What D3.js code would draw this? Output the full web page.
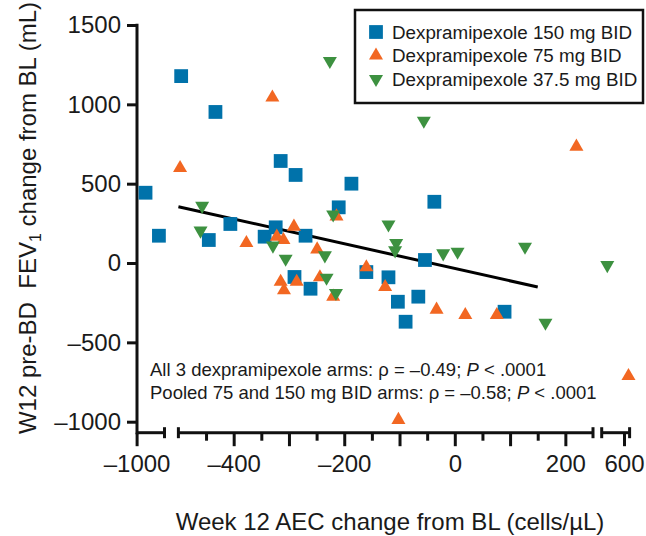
<!DOCTYPE html>
<html><head><meta charset="utf-8">
<script src="https://cdn.jsdelivr.net/npm/d3@7/dist/d3.min.js"></script>
<style>
body{margin:0;background:#fff}
svg{display:block}
text{font-family:"Liberation Sans",Arial,Helvetica,sans-serif;fill:#1a1a1a}
</style></head>
<body><svg id="chart" width="646" height="536"></svg>
<script>
// ---------- data ----------
const seriesNames = ["Dexpramipexole 150 mg BID","Dexpramipexole 75 mg BID","Dexpramipexole 37.5 mg BID"];
const x150 = [-495,-433,-984,-960,-315,-288,-187,-210,-37,-445,-406,-344,-324,-270,-290,-261,-160,-120,-103,-66,-89,-54,90];
const y150 = [1178,952,443,172,643,555,500,351,386,145,246,166,225,172,-88,-162,-57,-90,-244,-212,-370,19,-307];
const x75 = [-330,-497,220,-377,-322,-310,-291,-214,-249,-315,-309,-286,-244,-220,-160,-126,-33,19,76,608,-102];
const y75 = [1043,599,733,126,166,145,229,294,86,-118,-172,-118,-90,-212,-27,-151,-294,-328,-328,-712,-989];
const x37 = [-226,-56,-457,-460,-220,-329,-306,-235,-232,-215,-120,-106,-108,-21,5,127,570,164];
const y37 = [1273,897,360,204,306,110,27,48,-93,-189,243,126,80,61,71,103,-13,-376];
const regX = [-500,150];
const regY = [355,-151];
const xSegmentDomains = [[-1000,-950],[-500,250],[560,610]];
const xMajorTicks = [-1000,-400,-200,0,200,600];
const xMidTicks = [-300,-100,100];
const xMinorTicks = [-450,-350,-250,-150,-50,50,150];
const yTicks = [-1000,-500,0,500,1000,1500];
const annotations = [
  ["All 3 dexpramipexole arms: \u03C1 = \u20130.49; ","P"," < .0001"],
  ["Pooled 75 and 150 mg BID arms: \u03C1 = \u20130.58; ","P"," < .0001"]
];
const xTitle = "Week 12 AEC change from BL (cells/\u00B5L)";

// ---------- layout ----------
const colors = ["#0072AA","#F26722","#3D9140"];
const svg = d3.select("#chart");
const axisY = 432.7, axisX = 137;
const segRanges = [[136.6,164.5],[178.4,593],[601.7,629.6]];
const xs = xSegmentDomains.map((d,i)=>d3.scaleLinear().domain(d).range(segRanges[i]));
function xScale(v){
  for(let i=0;i<xs.length;i++){const d=xs[i].domain(); if(v>=d[0]-1e-9 && v<=d[1]+1e-9) return xs[i](v);}
  if(v<xSegmentDomains[1][0]) return xs[0](v);
  if(v>xSegmentDomains[1][1]) return xs[2](v);
  return xs[1](v);
}
const y = d3.scaleLinear().domain([-1000,1500]).range([421.7,25]);
const fmt = v => (v<0?"\u2013":"")+Math.abs(v);

// ---------- axes ----------
const ax = svg.append("g").attr("stroke","#111").attr("fill","none").attr("stroke-linecap","butt");
ax.append("line").attr("x1",axisX).attr("x2",axisX).attr("y1",y(1500)-1.3).attr("y2",axisY+1.5).attr("stroke-width",3);
const gy = svg.append("g").attr("transform",`translate(${axisX},0)`)
  .call(d3.axisLeft(y).tickValues(yTicks).tickSize(10).tickPadding(6).tickFormat(fmt));
gy.select(".domain").remove();
gy.selectAll(".tick line").attr("stroke","#111").attr("stroke-width",3);
gy.selectAll(".tick text").attr("font-size",24).attr("fill","#1a1a1a").attr("font-family","Liberation Sans, Arial, sans-serif");

xs.forEach((s,i)=>{
  const r = s.range();
  const x0 = i===0 ? axisX : r[0];
  ax.append("line").attr("x1",x0).attr("x2",r[1]).attr("y1",axisY).attr("y2",axisY).attr("stroke-width",3);
  if(i>0) ax.append("line").attr("x1",r[0]).attr("x2",r[0]).attr("y1",axisY-5.5).attr("y2",axisY+5.5).attr("stroke-width",3);
  ax.append("line").attr("x1",r[1]).attr("x2",r[1]).attr("y1",axisY-5.5).attr("y2",axisY+5.5).attr("stroke-width",3);
  const inDom = v => v>=s.domain()[0] && v<=s.domain()[1];
  const gMaj = svg.append("g").attr("transform",`translate(0,${axisY})`)
    .call(d3.axisBottom(s).tickValues(xMajorTicks.filter(inDom)).tickSize(13.5).tickPadding(9).tickFormat(fmt));
  gMaj.select(".domain").remove();
  gMaj.selectAll(".tick line").attr("stroke","#111").attr("stroke-width",3);
  gMaj.selectAll(".tick text").attr("font-size",24).attr("fill","#1a1a1a").attr("font-family","Liberation Sans, Arial, sans-serif");
  const gMid = svg.append("g").attr("transform",`translate(0,${axisY})`)
    .call(d3.axisBottom(s).tickValues(xMidTicks.filter(inDom)).tickSize(13.5).tickFormat(""));
  gMid.select(".domain").remove();
  gMid.selectAll(".tick line").attr("stroke","#111").attr("stroke-width",3);
  const gMin = svg.append("g").attr("transform",`translate(0,${axisY})`)
    .call(d3.axisBottom(s).tickValues(xMinorTicks.filter(inDom)).tickSize(8).tickFormat(""));
  gMin.select(".domain").remove();
  gMin.selectAll(".tick line").attr("stroke","#111").attr("stroke-width",3);
});

// ---------- regression line ----------
svg.append("line").attr("x1",xScale(regX[0])).attr("y1",y(regY[0])).attr("x2",xScale(regX[1])).attr("y2",y(regY[1]))
  .attr("stroke","#000").attr("stroke-width",3);

// ---------- points ----------
const sq = d3.symbol().type(d3.symbolSquare).size(190);
const tri = d3.symbol().type(d3.symbolTriangle).size(85);
function drawSeries(xv,yv,color,shape,rot){
  svg.append("g").selectAll("path").data(d3.zip(xv,yv)).join("path")
    .attr("d",shape)
    .attr("transform",d=>`translate(${xScale(d[0])},${y(d[1])})${rot?" rotate(180)":""}`)
    .attr("fill",color);
}
drawSeries(x150,y150,colors[0],sq,false);
drawSeries(x75,y75,colors[1],tri,false);
drawSeries(x37,y37,colors[2],tri,true);

// ---------- annotations ----------
annotations.forEach((parts,i)=>{
  const t = svg.append("text").attr("x",150).attr("y",375.5+i*23.5).attr("font-size",18.5);
  t.append("tspan").text(parts[0]);
  t.append("tspan").attr("font-style","italic").text(parts[1]);
  t.append("tspan").text(parts[2]);
});

// ---------- legend ----------
svg.append("rect").attr("x",355).attr("y",10).attr("width",288).attr("height",93)
  .attr("fill","#fff").attr("stroke","#111").attr("stroke-width",2.5);
const legShapes = [sq,tri,tri];
seriesNames.forEach((n,i)=>{
  const cy = 32 + i*23.5;
  svg.append("path").attr("d",legShapes[i]).attr("fill",colors[i])
    .attr("transform",`translate(376,${cy})${i===2?" rotate(180)":""}`);
  svg.append("text").attr("x",392).attr("y",cy+6.5).attr("font-size",18.8).text(n);
});

// ---------- titles ----------
svg.append("text").attr("x",390).attr("y",530).attr("text-anchor","middle").attr("font-size",24).text(xTitle);
const yt = svg.append("text").attr("transform","translate(36,218) rotate(-90)").attr("text-anchor","middle").attr("font-size",24);
yt.append("tspan").text("W12 pre-BD\u00A0\u00A0FEV");
yt.append("tspan").attr("font-size",16).attr("dy",5).text("1");
yt.append("tspan").attr("dy",-5).text(" change from BL (mL)");
</script></body></html>
